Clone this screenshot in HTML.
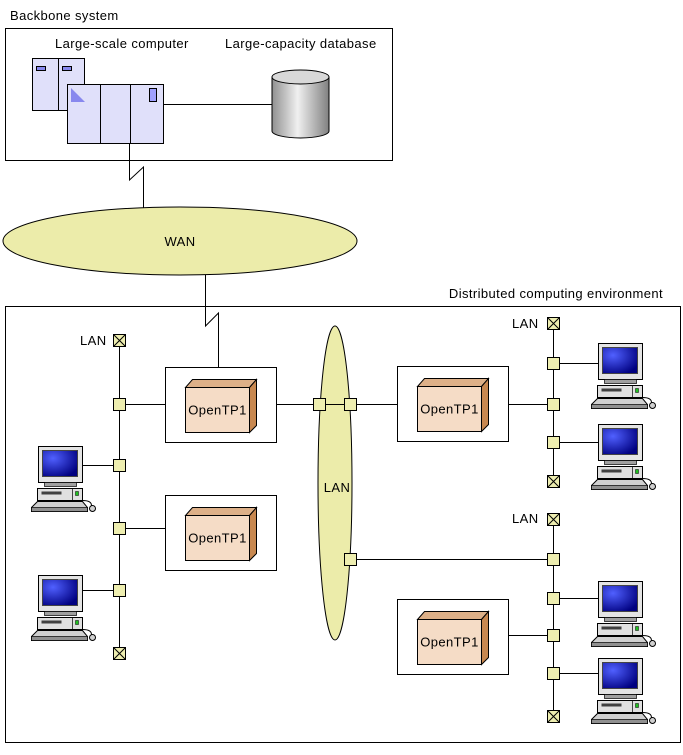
<!DOCTYPE html>
<html><head><meta charset="utf-8"><style>
html,body{margin:0;padding:0;background:#fff}
svg{display:block}
text{font-family:"Liberation Sans",sans-serif;font-size:13px;letter-spacing:0.4px;fill:#000}
</style></head><body>
<svg width="683" height="755" viewBox="0 0 683 755" xmlns="http://www.w3.org/2000/svg">
<defs>
<radialGradient id="scr" cx="0.3" cy="0.3" r="0.8">
<stop offset="0" stop-color="#5060ff"/><stop offset="1" stop-color="#000080"/></radialGradient>
<linearGradient id="cyl" x1="0" x2="1">
<stop offset="0" stop-color="#909090"/><stop offset="0.45" stop-color="#f0f0f0"/><stop offset="1" stop-color="#808080"/></linearGradient>
<g id="pc">
<rect x="7" y="0" width="44" height="36" fill="#e4e4e4" stroke="#000"/>
<rect x="11" y="4" width="35" height="26" fill="url(#scr)" stroke="#444"/>
<rect x="13" y="36" width="32" height="4" fill="#a0a0a0" stroke="#000" stroke-width="0.7"/>
<rect x="6" y="42" width="45" height="12" fill="#e0e0e0" stroke="#000"/>
<rect x="10" y="45" width="20" height="3" fill="#404040"/>
<rect x="44" y="45" width="3" height="4" fill="#20c020" stroke="#000" stroke-width="0.5"/>
<line x1="41" y1="42" x2="41" y2="54" stroke="#000" stroke-width="0.7"/>
<polygon points="6,55 51,55 56,61 56,65 0,65 0,61" fill="#d0d0d0" stroke="#000"/>
<rect x="0" y="61" width="56" height="4" fill="#909090" stroke="#000" stroke-width="0.7"/>
<path d="M51,54 C58,54 60,56 60,59" fill="none" stroke="#000"/>
<circle cx="61" cy="62" r="3" fill="#d0d0d0" stroke="#000"/>
</g>
<g id="nd"><rect x="-6" y="-6" width="12" height="12" fill="#eeeeb0" stroke="#000"/></g>
<g id="tm"><rect x="-6" y="-6" width="12" height="12" fill="#eeeeb0" stroke="#000"/><path d="M-6,-6L6,6M6,-6L-6,6" stroke="#000"/></g>
<g id="otp">
<rect x="0" y="0" width="111" height="75" fill="#fff" stroke="#000"/>
<polygon points="20,20 27,12 91,12 84,20" fill="#ddb088" stroke="#000"/>
<polygon points="84,20 91,12 91,58 84,65" fill="#c88850" stroke="#000"/>
<rect x="20" y="20" width="64" height="45" fill="#f5dcc6" stroke="#000"/>
<text x="52" y="47" text-anchor="middle">OpenTP1</text>
</g>
</defs>
<g stroke="#000" fill="none" stroke-width="1">
<rect x="5.5" y="28.5" width="387" height="132" fill="#fff"/>
<polyline points="129.5,143 129.5,180 143.5,167 143.5,208"/>
<line x1="163" y1="104.5" x2="272" y2="104.5"/>
<ellipse cx="180" cy="241" rx="177" ry="34" fill="#ececaa"/>
<polyline points="205.5,275 205.5,326 218.5,313 218.5,367"/>
<rect x="5.5" y="306.5" width="675" height="436"/>
</g>
<text x="10" y="20">Backbone system</text>
<text x="55" y="48">Large-scale computer</text>
<text x="225" y="48">Large-capacity database</text>
<text x="180" y="246" text-anchor="middle">WAN</text>
<text x="663" y="298" text-anchor="end">Distributed computing environment</text>
<g stroke="#000">
<rect x="32.5" y="58.5" width="26" height="52" fill="#e0e0fa"/>
<rect x="58.5" y="58.5" width="26" height="52" fill="#e0e0fa"/>
<rect x="36.5" y="66.5" width="9" height="4" fill="#8888ee"/>
<rect x="62.5" y="66.5" width="9" height="4" fill="#8888ee"/>
<rect x="67.5" y="84.5" width="96" height="59" fill="#e0e0fa"/>
<line x1="100.5" y1="84" x2="100.5" y2="143"/>
<line x1="130.5" y1="84" x2="130.5" y2="143"/>
<rect x="149.5" y="88.5" width="7" height="13" fill="#a0a0ff"/>
</g>
<polygon points="71,88 71,102 85,102" fill="#8888ee"/>
<path d="M272,77 L272,131 A28.5,7 0 0 0 329,131 L329,77" fill="url(#cyl)" stroke="#000"/>
<ellipse cx="300.5" cy="77" rx="28.5" ry="7" fill="#d8d8d8" stroke="#000"/>
<g stroke="#000">
<line x1="119.5" y1="340" x2="119.5" y2="653"/>
<line x1="119" y1="404.5" x2="165" y2="404.5"/>
<line x1="80" y1="465.5" x2="119" y2="465.5"/>
<line x1="119" y1="528.5" x2="165" y2="528.5"/>
<line x1="80" y1="590.5" x2="119" y2="590.5"/>
<line x1="276" y1="404.5" x2="397" y2="404.5"/>
<line x1="508" y1="404.5" x2="553" y2="404.5"/>
<line x1="553.5" y1="323" x2="553.5" y2="481"/>
<line x1="553" y1="363.5" x2="598" y2="363.5"/>
<line x1="553" y1="442.5" x2="598" y2="442.5"/>
<line x1="553.5" y1="519" x2="553.5" y2="716"/>
<line x1="553" y1="598.5" x2="598" y2="598.5"/>
<line x1="508" y1="635.5" x2="553" y2="635.5"/>
<line x1="553" y1="673.5" x2="598" y2="673.5"/>
</g>
<ellipse cx="335" cy="483" rx="17" ry="157" fill="#ececaa" stroke="#000"/>
<line x1="350" y1="559.5" x2="553" y2="559.5" stroke="#000"/>
<line x1="319" y1="404.5" x2="351" y2="404.5" stroke="#000"/>
<text x="337" y="492" text-anchor="middle">LAN</text>
<text x="80" y="345">LAN</text>
<text x="512" y="328">LAN</text>
<text x="512" y="523">LAN</text>
<use href="#otp" x="165.5" y="367.5"/>
<use href="#otp" x="165.5" y="495.5"/>
<use href="#otp" x="397.5" y="366.5"/>
<use href="#otp" x="397.5" y="599.5"/>
<use href="#tm" x="119.5" y="340.5"/>
<use href="#tm" x="119.5" y="653.5"/>
<use href="#nd" x="119.5" y="404.5"/>
<use href="#nd" x="119.5" y="465.5"/>
<use href="#nd" x="119.5" y="528.5"/>
<use href="#nd" x="119.5" y="590.5"/>
<use href="#nd" x="319.5" y="404.5"/>
<use href="#nd" x="350.5" y="404.5"/>
<use href="#nd" x="350.5" y="559.5"/>
<use href="#tm" x="553.5" y="323.5"/>
<use href="#nd" x="553.5" y="363.5"/>
<use href="#nd" x="553.5" y="404.5"/>
<use href="#nd" x="553.5" y="442.5"/>
<use href="#tm" x="553.5" y="481.5"/>
<use href="#tm" x="553.5" y="519.5"/>
<use href="#nd" x="553.5" y="559.5"/>
<use href="#nd" x="553.5" y="598.5"/>
<use href="#nd" x="553.5" y="635.5"/>
<use href="#nd" x="553.5" y="673.5"/>
<use href="#tm" x="553.5" y="716.5"/>
<use href="#pc" x="31.5" y="446.5"/>
<use href="#pc" x="31.5" y="575.5"/>
<use href="#pc" x="591.5" y="343.5"/>
<use href="#pc" x="591.5" y="424.5"/>
<use href="#pc" x="591.5" y="581.5"/>
<use href="#pc" x="591.5" y="658.5"/>
</svg>
</body></html>
